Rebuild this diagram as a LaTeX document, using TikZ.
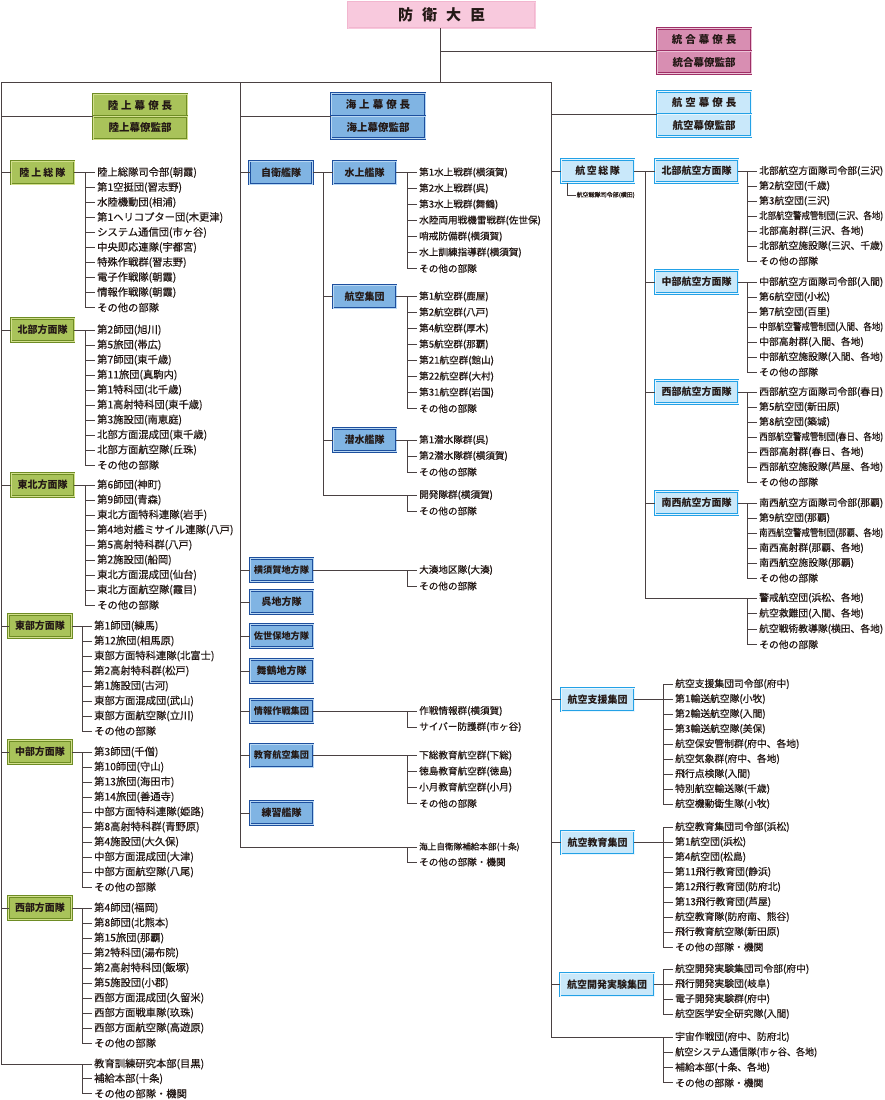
\documentclass[tikz,border=0pt]{standalone}
\usepackage{fontspec}
\setmainfont{Noto Sans CJK JP}[UprightFeatures={FakeBold=0.5}]
\usepackage{graphicx}

\definecolor{linec}{HTML}{4A4142}
\definecolor{textc}{HTML}{231815}
\definecolor{minfill}{HTML}{F8C9DD}
\definecolor{minline}{HTML}{F2B6CF}
\definecolor{jfill}{HTML}{D88EB2}
\definecolor{jline}{HTML}{9E2F66}
\definecolor{jlight}{HTML}{ECC3D7}
\definecolor{gfill}{HTML}{A9C35A}
\definecolor{gline}{HTML}{6E8C24}
\definecolor{glight}{HTML}{D3E08E}
\definecolor{mfill}{HTML}{80B4E3}
\definecolor{mline}{HTML}{1D4F9E}
\definecolor{mlight}{HTML}{B9D8F3}
\definecolor{afill}{HTML}{C9E8FA}
\definecolor{aline}{HTML}{23A1E6}
\definecolor{alight}{HTML}{E8F6FE}

\newcommand\gapk{\hspace{3pt}}
\newsavebox\entrybox
\newcommand\fitentry[2]{\sbox\entrybox{#2}%
  \ifdim\wd\entrybox>#1\relax\resizebox{#1}{\height}{\usebox\entrybox}\else\usebox\entrybox\fi}
% #1 name, #2 trunk x, #3 first y, #4 step, #5 max width, #6 entries
\newcommand\unitlist[6]{%
  \coordinate (#1t) at (#2,#3);
  \foreach \txt [count=\n] in {#6} {
    \node[listentry] (#1\n) at ({#2+11.5},{#3+#4*(\n-1)}) {\fitentry{#5}{\txt}};
    \draw[link, shorten >=1.5pt] (#1t |- #1\n.west) -- (#1\n.west);
    \xdef\lastentry{\n}
  }
  \draw[link] (#1t) -- (#1t |- #1\lastentry.west);
}

\begin{document}
\begin{tikzpicture}[x=1pt, y=-1pt,
    link/.style={draw=linec, line width=0.9pt},
    listentry/.style={anchor=west, inner sep=0.5pt, text=textc, font=\fontsize{\entrysize}{12}\selectfont},
    orgbox/.style={line width=0.8pt, double distance=0.6pt, minimum height=23pt, inner sep=0pt, outer sep=0pt, text=textc, font=\bfseries\fontsize{10}{12}\selectfont},
    gbox/.style={orgbox, draw=gline, double=glight, fill=gfill, minimum width=63pt},
    mbox/.style={orgbox, draw=mline, double=mlight, fill=mfill, minimum width=63pt},
    abox/.style={orgbox, draw=aline, double=alight, fill=afill, minimum width=73pt},
    staffbox/.style={minimum width=94pt, minimum height=22.5pt, font=\bfseries\fontsize{10.5}{12}\selectfont},
  ]
  \useasboundingbox (0,0) rectangle (885,1100);

  % Minister and joint staff
  \node[orgbox, draw=minline, double=minfill, fill=minfill, minimum width=187pt, minimum height=26pt, font=\bfseries\fontsize{15}{18}\selectfont] (minister) at (441.5,15) {防\hspace{9pt}衛\hspace{9pt}大\hspace{9pt}臣};
  \node[orgbox, staffbox, draw=jline, double=jlight, fill=jfill, anchor=south west] (jcos) at (657,51) {統\gapk 合\gapk 幕\gapk 僚\gapk 長};
  \node[orgbox, staffbox, draw=jline, double=jlight, fill=jfill, anchor=north] (jso) at (jcos.south) {統合幕僚監部};

  \coordinate (top) at (440,82);
  \coordinate (gv) at (1.5,82);
  \coordinate (mv) at (240,82);
  \coordinate (av) at (551,82);
  \draw[link] (minister.south -| top) -- (top);
  \draw[link] (jcos.south west) -- (jcos.south west -| top);
  \draw[link] (gv) -- (av);

  % Ground
  \node[gbox, staffbox, anchor=south west] (gcos) at (93,116.5) {陸\gapk 上\gapk 幕\gapk 僚\gapk 長};
  \node[gbox, staffbox, anchor=north] (gso) at (gcos.south) {陸上幕僚監部};
  \draw[link] (gv |- gcos.south west) -- (gcos.south west);

  \def\entrysize{10.3}
  \node[gbox] (rkbox) at (42.5,172.5) {陸\hspace{2pt}上\hspace{2pt}総\hspace{2pt}隊};
  \node[gbox] (hbbox) at (42.5,330) {北部方面隊};
  \node[gbox] (thbox) at (42.5,485) {東北方面隊};
  \node[gbox] (tbbox) at (40,626) {東部方面隊};
  \node[gbox] (cbbox) at (40,752) {中部方面隊};
  \node[gbox] (wbbox) at (40,908) {西部方面隊};
  \unitlist{rk}{85}{172.5}{15}{140pt}{陸上総隊司令部(朝霞),第1空挺団(習志野),水陸機動団(相浦),第1ヘリコプター団(木更津),システム通信団(市ヶ谷),中央即応連隊(宇都宮),特殊作戦群(習志野),電子作戦隊(朝霞),情報作戦隊(朝霞),その他の部隊}
  \unitlist{hb}{85}{330}{15}{140pt}{第2師団(旭川),第5旅団(帯広),第7師団(東千歳),第11旅団(真駒内),第1特科団(北千歳),第1高射特科団(東千歳),第3施設団(南恵庭),北部方面混成団(東千歳),北部方面航空隊(丘珠),その他の部隊}
  \unitlist{th}{85}{485}{15}{140pt}{第6師団(神町),第9師団(青森),東北方面特科連隊(岩手),第4地対艦ミサイル連隊(八戸),第5高射特科群(八戸),第2施設団(船岡),東北方面混成団(仙台),東北方面航空隊(霞目),その他の部隊}
  \unitlist{tb}{82}{626}{15}{140pt}{第1師団(練馬),第12旅団(相馬原),東部方面特科連隊(北富士),第2高射特科群(松戸),第1施設団(古河),東部方面混成団(武山),東部方面航空隊(立川),その他の部隊}
  \unitlist{cb}{82}{752}{15}{140pt}{第3師団(千僧),第10師団(守山),第13旅団(海田市),第14旅団(善通寺),中部方面特科連隊(姫路),第8高射特科群(青野原),第4施設団(大久保),中部方面混成団(大津),中部方面航空隊(八尾),その他の部隊}
  \unitlist{wb}{82}{908}{15}{140pt}{第4師団(福岡),第8師団(北熊本),第15旅団(那覇),第2特科団(湯布院),第2高射特科団(飯塚),第5施設団(小郡),西部方面混成団(久留米),西部方面戦車隊(玖珠),西部方面航空隊(高遊原),その他の部隊}
  \unitlist{gx}{82}{1064}{14.8}{140pt}{教育訓練研究本部(目黒),補給本部(十条),その他の部隊・機関}
  \foreach \bx in {rk,hb,th,tb,cb,wb} {
    \draw[link] (gv |- \bx box.west) -- (\bx box.west);
    \draw[link] (\bx box.east) -- (\bx t);
  }
  \draw[link] (gv) -- (gv |- gxt) -- (gxt);

  % Maritime
  \node[mbox, staffbox, anchor=south west] (mcos) at (331,116) {海\gapk 上\gapk 幕\gapk 僚\gapk 長};
  \node[mbox, staffbox, anchor=north] (mso) at (mcos.south) {海上幕僚監部};
  \draw[link] (mv |- mcos.south west) -- (mcos.south west);

  \def\entrysize{9.6}
  \node[mbox] (sdbox) at (281,172.5) {自衛艦隊};
  \coordinate (sdt) at (323,172.5);
  \draw[link] (mv |- sdbox.west) -- (sdbox.west);
  \draw[link] (sdbox.east) -- (sdt);
  \node[mbox] (sfbox) at (364.5,172.5) {水上艦隊};
  \node[mbox] (afbox) at (364.5,296.5) {航空集団};
  \node[mbox] (ssbox) at (364.5,440) {潜水艦隊};
  \unitlist{sf}{407}{172.5}{16}{128pt}{第1水上戦群(横須賀),第2水上戦群(呉),第3水上戦群(舞鶴),水陸両用戦機雷戦群(佐世保),哨戒防備群(横須賀),水上訓練指導群(横須賀),その他の部隊}
  \unitlist{af}{407}{296.5}{16}{128pt}{第1航空群(鹿屋),第2航空群(八戸),第4航空群(厚木),第5航空群(那覇),第21航空群(館山),第22航空群(大村),第31航空群(岩国),その他の部隊}
  \unitlist{ss}{407}{440}{16}{128pt}{第1潜水隊群(呉),第2潜水隊群(横須賀),その他の部隊}
  \unitlist{dv}{407}{495}{16}{128pt}{開発隊群(横須賀),その他の部隊}
  \foreach \bx in {sf,af,ss} {
    \draw[link] (sdt |- \bx box.west) -- (\bx box.west);
    \draw[link] (\bx box.east) -- (\bx t);
  }
  \draw[link] (sdt) -- (sdt |- dvt) -- (dvt);

  \node[mbox, font=\bfseries\fontsize{9.2}{11}\selectfont] (ykbox) at (281.5,570) {横須賀地方隊};
  \node[mbox] (kubox) at (281.5,602) {呉地方隊};
  \node[mbox, font=\bfseries\fontsize{9.2}{11}\selectfont] (sbbox) at (281.5,636) {佐世保地方隊};
  \node[mbox] (mzbox) at (281.5,671) {舞鶴地方隊};
  \node[mbox, font=\bfseries\fontsize{9.2}{11}\selectfont] (iobox) at (281.5,711) {情報作戦集団};
  \node[mbox, font=\bfseries\fontsize{9.2}{11}\selectfont] (eabox) at (281.5,755.5) {教育航空集団};
  \node[mbox] (trbox) at (281.5,813) {練習艦隊};
  \unitlist{yk}{407}{570}{16}{128pt}{大湊地区隊(大湊),その他の部隊}
  \unitlist{io}{407}{711}{16}{128pt}{作戦情報群(横須賀),サイバー防護群(市ヶ谷)}
  \unitlist{ea}{407}{755.5}{16}{128pt}{下総教育航空群(下総),徳島教育航空群(徳島),小月教育航空群(小月),その他の部隊}
  \unitlist{mx}{407}{847}{15}{128pt}{{\fontsize{8.6}{10}\selectfont 海上自衛隊補給本部(十条)},その他の部隊・機関}
  \foreach \bx in {yk,ku,sb,mz,io,ea,tr}
    \draw[link] (mv |- \bx box.west) -- (\bx box.west);
  \foreach \bx in {yk,io,ea}
    \draw[link] (\bx box.east) -- (\bx t);
  \draw[link] (mv) -- (mv |- mxt) -- (mxt);

  % Air
  \node[abox, staffbox, anchor=south west] (acos) at (657,114) {航\gapk 空\gapk 幕\gapk 僚\gapk 長};
  \node[abox, staffbox, anchor=north] (aso) at (acos.south) {航空幕僚監部};
  \draw[link] (av |- acos.south west) -- (acos.south west);

  \def\entrysize{9.8}
  \node[abox] (sobox) at (597.5,171) {航\hspace{1.5pt}空\hspace{1.5pt}総\hspace{1.5pt}隊};
  \node[anchor=west, inner sep=0.5pt, text=textc, font=\fontsize{6}{7}\selectfont] (sohq) at (576,195) {航空総隊司令部(横田)};
  \draw[link, line width=0.6pt] ([xshift=6pt]sobox.south west) |- (sohq.west);
  \coordinate (sot) at (645,171);
  \draw[link] (av |- sobox.west) -- (sobox.west);
  \draw[link] (sobox.east) -- (sot);
  \node[abox, minimum width=83pt] (nabox) at (696.5,171) {北部航空方面隊};
  \node[abox, minimum width=83pt] (cabox) at (696.5,282) {中部航空方面隊};
  \node[abox, minimum width=83pt] (wabox) at (696.5,392) {西部航空方面隊};
  \node[abox, minimum width=83pt] (swbox) at (696.5,503) {南西航空方面隊};
  \unitlist{na}{747}{171}{15}{124pt}{北部航空方面隊司令部(三沢),第2航空団(千歳),第3航空団(三沢),北部航空警戒管制団(三沢、各地),北部高射群(三沢、各地),北部航空施設隊(三沢、千歳),その他の部隊}
  \unitlist{ca}{747}{282}{15}{124pt}{中部航空方面隊司令部(入間),第6航空団(小松),第7航空団(百里),中部航空警戒管制団(入間、各地),中部高射群(入間、各地),中部航空施設隊(入間、各地),その他の部隊}
  \unitlist{wa}{747}{392}{15}{124pt}{西部航空方面隊司令部(春日),第5航空団(新田原),第8航空団(築城),西部航空警戒管制団(春日、各地),西部高射群(春日、各地),西部航空施設隊(芦屋、各地),その他の部隊}
  \unitlist{sw}{747}{503}{15}{124pt}{南西航空方面隊司令部(那覇),第9航空団(那覇),南西航空警戒管制団(那覇、各地),南西高射群(那覇、各地),南西航空施設隊(那覇),その他の部隊}
  \unitlist{ax}{747}{598}{15.5}{124pt}{警戒航空団(浜松、各地),航空救難団(入間、各地),航空戦術教導隊(横田、各地),その他の部隊}
  \foreach \bx in {na,ca,wa,sw} {
    \draw[link] (sot |- \bx box.west) -- (\bx box.west);
    \draw[link] (\bx box.east) -- (\bx t);
  }
  \draw[link] (sot) -- (sot |- axt) -- (axt);

  \node[abox] (spbox) at (597.5,699.5) {航空支援集団};
  \node[abox] (edbox) at (597.5,842.5) {航空教育集団};
  \node[abox, minimum width=94pt] (dxbox) at (607,984.5) {航空開発実験集団};
  \unitlist{sp}{663}{684}{15}{142pt}{航空支援集団司令部(府中),第1輸送航空隊(小牧),第2輸送航空隊(入間),第3輸送航空隊(美保),航空保安管制群(府中、各地),航空気象群(府中、各地),飛行点検隊(入間),特別航空輸送隊(千歳),航空機動衛生隊(小牧)}
  \unitlist{ed}{663}{827}{15}{142pt}{航空教育集団司令部(浜松),第1航空団(浜松),第4航空団(松島),第11飛行教育団(静浜),第12飛行教育団(防府北),第13飛行教育団(芦屋),航空教育隊(防府南、熊谷),飛行教育航空隊(新田原),その他の部隊・機関}
  \unitlist{dx}{663}{969}{15}{142pt}{航空開発実験集団司令部(府中),飛行開発実験団(岐阜),電子開発実験群(府中),航空医学安全研究隊(入間)}
  \unitlist{ay}{663}{1037}{15.3}{142pt}{宇宙作戦団(府中、防府北),航空システム通信隊(市ヶ谷、各地),補給本部(十条、各地),その他の部隊・機関}
  \foreach \bx in {sp,ed,dx} {
    \draw[link] (av |- \bx box.west) -- (\bx box.west);
    \draw[link] (\bx box.east) -- (\bx box.east -| \bx t);
  }
  \draw[link] (av) -- (av |- ayt) -- (ayt);
\end{tikzpicture}
\end{document}
